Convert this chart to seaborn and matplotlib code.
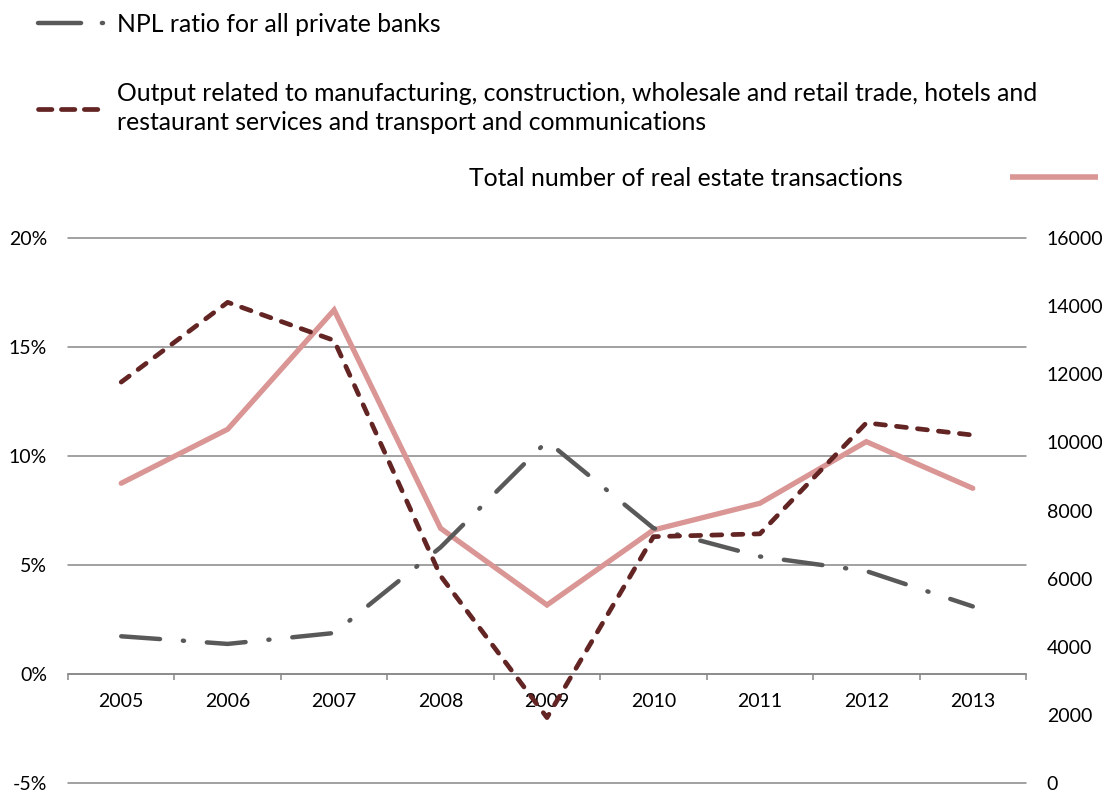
import numpy as np
import pandas as pd
import matplotlib
matplotlib.use("Agg")
import matplotlib.pyplot as plt
from matplotlib.lines import Line2D
from matplotlib.ticker import FixedLocator, FuncFormatter
import seaborn as sns

# --- data -------------------------------------------------------------
years = ["2005", "2006", "2007", "2008", "2009", "2010", "2011", "2012", "2013"]
npl_ratio = [1.73, 1.38, 1.88, 5.81, 10.68, 6.69, 5.39, 4.72, 3.10]          # %
output_growth = [13.39, 17.05, 15.30, 4.50, -2.00, 6.30, 6.43, 11.52, 10.96]  # %
real_estate = [8800, 10385, 13887, 7478, 5226, 7428, 8212, 10021, 8652]      # count

left_ticks = [-5, 0, 5, 10, 15, 20]
right_ticks = [0, 2000, 4000, 6000, 8000, 10000, 12000, 14000, 16000]

label_npl = "NPL ratio for all private banks"
label_output = ("Output related to manufacturing, construction, wholesale and retail trade, hotels and\n"
                "restaurant services and transport and communications")
label_real = "Total number of real estate transactions"

# --- style ------------------------------------------------------------
sns.set_theme(style="white")
plt.rcParams["font.family"] = ["Lato", "DejaVu Sans"]
plt.rcParams["axes.unicode_minus"] = False
plt.rcParams["lines.scale_dashes"] = False

C_NPL = "#595959"
C_OUT = "#632523"
C_REAL = "#D99694"
C_GRID = "#878787"
TXT = "#000000"
FS_TICK = 14
FS_LEG = 17.8

LW_NPL, LW_OUT, LW_REAL = 3.2, 3.4, 3.8
NPL_DASH = (28, 16.5, 0.8, 16.5)
OUT_DASH = (7.2, 8.0)

W, H = 1102, 792
fig = plt.figure(figsize=(W / 100, H / 100), dpi=100)
ax = fig.add_axes([68 / W, 1 - 783 / H, (1026 - 68) / W, (783 - 238) / H])
ax2 = ax.twinx()

df = pd.DataFrame({"year": years, "npl": npl_ratio, "out": output_growth, "real": real_estate})

# secondary axis: real estate transactions (drawn underneath)
sns.lineplot(data=df, x="year", y="real", ax=ax2, color=C_REAL, lw=LW_REAL,
             sort=False, errorbar=None, legend=False)
ax2.lines[-1].set_solid_joinstyle("miter")

# primary axis: NPL ratio and output
sns.lineplot(data=df, x="year", y="npl", ax=ax, color=C_NPL, lw=LW_NPL,
             sort=False, errorbar=None, legend=False)
l_npl = ax.lines[-1]
l_npl.set_dashes(NPL_DASH)
l_npl.set_dash_capstyle("round")

sns.lineplot(data=df, x="year", y="out", ax=ax, color=C_OUT, lw=LW_OUT,
             sort=False, errorbar=None, legend=False)
l_out = ax.lines[-1]
l_out.set_dashes(OUT_DASH)
l_out.set_dash_capstyle("round")

ax.set_zorder(2)
ax2.set_zorder(1)
ax.patch.set_visible(False)

# axes limits
ax.set_xlim(-0.5, len(years) - 0.5)
ax.set_ylim(left_ticks[0], left_ticks[-1])
ax2.set_ylim(right_ticks[0], right_ticks[-1])

# horizontal gridlines at the left-axis steps (drawn on the lower axes)
step = (right_ticks[-1] - right_ticks[0]) / (len(left_ticks) - 1)
ax2.yaxis.remove_overlapping_locs = False
ax2.yaxis.set_minor_locator(FixedLocator(np.arange(right_ticks[0], right_ticks[-1] + 1, step)))
ax2.grid(which="minor", axis="y", color=C_GRID, lw=1.1, clip_on=False)
ax2.grid(which="major", visible=False)
ax.grid(False)

# left axis
ax.set_yticks(left_ticks)
ax.yaxis.set_major_formatter(FuncFormatter(lambda v, p: f"{v:.0f}%"))
ax.tick_params(axis="y", length=0, pad=15, labelsize=FS_TICK, labelcolor=TXT)

# right axis
ax2.set_yticks(right_ticks)
ax2.yaxis.set_major_formatter(FuncFormatter(lambda v, p: f"{v:.0f}"))
ax2.tick_params(axis="y", which="both", length=0, pad=15, labelsize=FS_TICK, labelcolor=TXT)

# category axis sitting on 0%
ax.spines["bottom"].set_position(("data", 0))
ax.spines["bottom"].set_color(C_GRID)
ax.spines["bottom"].set_linewidth(1.1)
for s in ["top", "left", "right"]:
    ax.spines[s].set_visible(False)
for s in ax2.spines.values():
    s.set_visible(False)
ax.xaxis.set_minor_locator(FixedLocator(np.arange(-0.5, len(years), 1.0)))
ax.tick_params(axis="x", which="minor", length=4, width=1.1, color=C_GRID, direction="out", bottom=True)
ax.tick_params(axis="x", which="major", length=0, pad=14, labelsize=FS_TICK, labelcolor=TXT)
ax.set_xlabel("")
ax.set_ylabel("")
ax2.set_ylabel("")

# --- legend entries ---------------------------------------------------
def fx(px):
    return px / W

def fy(py):
    return 1 - py / H

h_npl = Line2D([], [], color=C_NPL, lw=LW_NPL, dashes=(31, 15, 0.8, 16), dash_capstyle="round")
h_out = Line2D([], [], color=C_OUT, lw=LW_OUT, dashes=(9.7, 6.8), dash_capstyle="round")
h_real = Line2D([], [], color=C_REAL, lw=4.0, solid_capstyle="butt")

fpx = FS_LEG * 100 / 72
common = dict(frameon=False, borderpad=0, borderaxespad=0, fontsize=FS_LEG,
              labelcolor=TXT, bbox_transform=fig.transFigure)

fig.legend([h_npl], [label_npl], loc="center left", bbox_to_anchor=(fx(38), fy(24)),
           handlelength=69 / fpx, handletextpad=10 / fpx, **common)
leg2 = fig.legend([h_out], [label_output], loc="center left", bbox_to_anchor=(fx(38), fy(108)),
                  handlelength=64 / fpx, handletextpad=15 / fpx, **common)
for t in leg2.get_texts():
    t.set_linespacing(1.3)
fig.legend([h_real], [label_real], loc="center right", bbox_to_anchor=(fx(1098), fy(178)),
           markerfirst=False, handlelength=88 / fpx, handletextpad=107 / fpx, **common)

fig.savefig("out.png", dpi=100)
